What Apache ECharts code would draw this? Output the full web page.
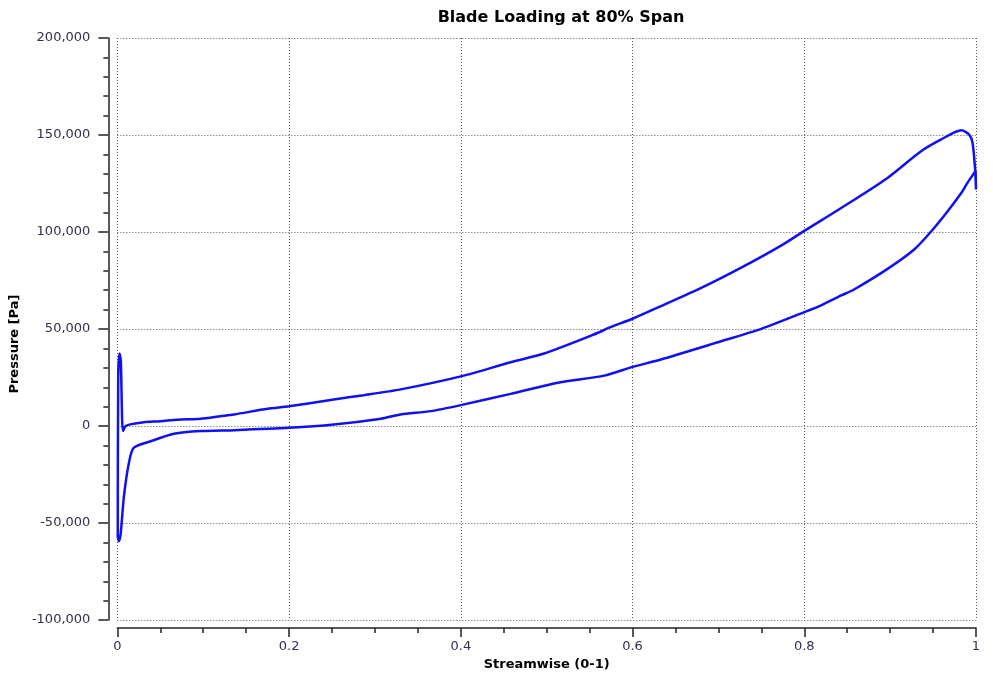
<!DOCTYPE html>
<html>
<head>
<meta charset="utf-8">
<title>Blade Loading at 80% Span</title>
<script src="https://cdn.jsdelivr.net/npm/echarts@6/dist/echarts.min.js"></script>
<style>
  html, body { margin: 0; padding: 0; background: #fff; }
  #chart { width: 993px; height: 676px; }
</style>
</head>
<body>
<div id="chart"></div>
<script>
// suction side (lower curve), trailing edge -> leading edge
const ssX = [0.9995, 0.99, 0.983, 0.967, 0.948, 0.928, 0.897, 0.858, 0.843, 0.819, 0.8, 0.75, 0.703, 0.633, 0.6, 0.567, 0.516, 0.458, 0.4, 0.365, 0.33, 0.307, 0.252, 0.2, 0.136, 0.097, 0.066, 0.039, 0.019, 0.0135, 0.0077, 0.004, 0.0019, 0.0005];
const ssY = [131500, 125300, 120200, 110700, 100400, 91000, 81000, 70400, 67300, 62100, 58700, 50100, 43700, 34300, 30500, 26000, 22600, 16600, 10800, 7700, 6000, 3800, 800, -900, -2100, -2600, -4000, -7800, -11200, -18900, -36000, -55000, -59300, -57000];
// pressure side (upper curve), leading edge -> trailing edge
const psX = [0.001, 0.0025, 0.004, 0.0065, 0.0097, 0.019, 0.031, 0.05, 0.07, 0.097, 0.12, 0.136, 0.175, 0.2, 0.252, 0.287, 0.33, 0.4, 0.458, 0.497, 0.555, 0.575, 0.6, 0.633, 0.68, 0.726, 0.773, 0.8, 0.843, 0.897, 0.936, 0.959, 0.983, 0.992, 0.996, 0.999, 1.0];
const psY = [25000, 37400, 34000, -2600, 0, 1200, 2000, 2500, 3300, 3800, 5100, 6000, 8900, 10200, 13700, 15900, 18900, 25600, 32900, 37400, 47200, 51100, 55300, 61800, 71200, 81500, 93000, 100600, 112400, 127900, 141600, 147600, 152400, 150200, 145900, 132200, 121900];

const xTicks = { min: 0, max: 1, interval: 0.2 };
const yTicks = { min: -100000, max: 200000, interval: 50000 };

function bladeLoading(container) {
  container = document.getElementById(container);
  let data = buildLoop();
  chartSetup(container, data);
}
// one closed loop: suction side to the leading edge, pressure side back to the trailing edge
function buildLoop() {
  let pts = [];
  for (let i = 0; i < ssX.length; i++) pts.push([ssX[i], ssY[i]]);
  for (let i = 0; i < psX.length; i++) pts.push([psX[i], psY[i]]);
  pts.push([ssX[0], ssY[0]]);
  return pts;
}
function chartSetup(container, data_) {
  let myChart = echarts.init(container, null, { renderer: "canvas" }),
    font = "'DejaVu Sans', Verdana, sans-serif",
    gridLine = { show: true, lineStyle: { color: "#555", width: 1, type: [1, 2] } },
    option;
  option = {
    backgroundColor: "#fff",
    animation: false,
    title: {
      text: "Blade Loading at 80% Span",
      left: 556,
      top: 5,
      textAlign: "center",
      textStyle: { fontFamily: font, fontSize: 16, fontWeight: "bold", color: "#000" }
    },
    grid: { left: 117, right: 17, top: 38, bottom: 55 },
    xAxis: {
      type: "value",
      min: xTicks.min,
      max: xTicks.max,
      interval: xTicks.interval,
      offset: 8,
      name: "Streamwise (0-1)",
      nameLocation: "middle",
      nameGap: 29,
      nameTextStyle: { fontFamily: font, fontSize: 13, fontWeight: "bold", color: "#000" },
      axisLine: { show: true, onZero: false, lineStyle: { color: "#222", width: 1.5 } },
      axisTick: { show: true, length: 9, lineStyle: { color: "#222", width: 1.5 } },
      minorTick: { show: true, splitNumber: 4, length: 5, lineStyle: { color: "#222", width: 1.5 } },
      axisLabel: { fontFamily: font, fontSize: 13, color: "#30304a", margin: 12 },
      splitLine: gridLine
    },
    yAxis: {
      type: "value",
      min: yTicks.min,
      max: yTicks.max,
      interval: yTicks.interval,
      offset: 9,
      name: "Pressure [Pa]",
      nameLocation: "middle",
      nameGap: 85,
      nameTextStyle: { fontFamily: font, fontSize: 13, fontWeight: "bold", color: "#000", padding: [0, 30, 0, 0] },
      axisLine: { show: true, onZero: false, lineStyle: { color: "#222", width: 1.5 } },
      axisTick: { show: true, length: 10, lineStyle: { color: "#222", width: 1.5 } },
      minorTick: { show: true, splitNumber: 5, length: 5, lineStyle: { color: "#222", width: 1.5 } },
      axisLabel: { fontFamily: font, fontSize: 13, color: "#30304a", margin: 18 },
      splitLine: gridLine
    },
    series: [
      {
        name: "Blade Loading",
        type: "line",
        showSymbol: false,
        symbol: "none",
        smooth: 0.25,
        lineStyle: { color: "#1010f2", width: 2.5 },
        data: data_
      }
    ]
  };

  if (option && typeof option === "object") myChart.setOption(option);
  window.addEventListener("resize", function (event) {
    myChart.resize();
  });
}

bladeLoading("chart");
</script>
</body>
</html>
